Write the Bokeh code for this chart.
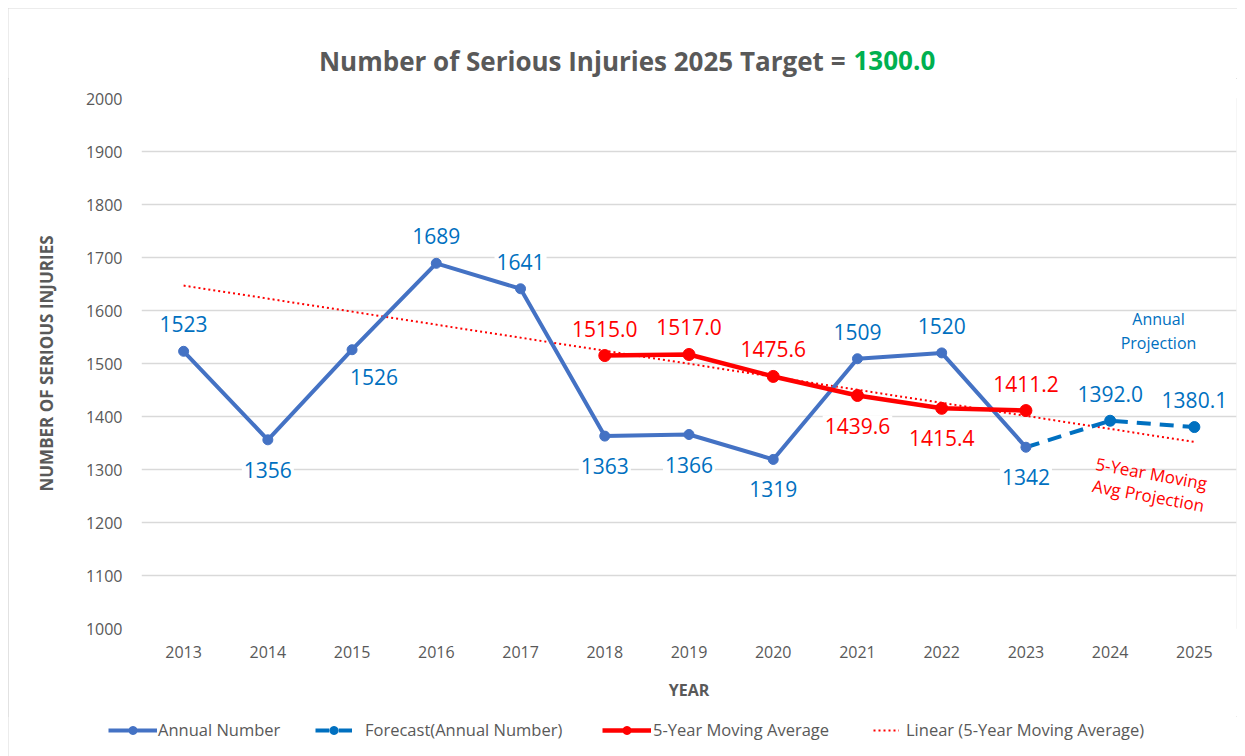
from bokeh.plotting import figure
from bokeh.layouts import column
from bokeh.models import ColumnDataSource, Label, Legend, LegendItem, FixedTicker, FactorRange, Range1d
from bokeh.core.properties import value
from bokeh.embed import file_html
from bokeh.resources import INLINE

# ---------------- data ----------------
years = ["2013", "2014", "2015", "2016", "2017", "2018", "2019",
         "2020", "2021", "2022", "2023", "2024", "2025"]

annual_years = ["2013", "2014", "2015", "2016", "2017", "2018",
                "2019", "2020", "2021", "2022", "2023"]
annual_values = [1523, 1356, 1526, 1689, 1641, 1363, 1366, 1319, 1509, 1520, 1342]

forecast_years = ["2023", "2024", "2025"]
forecast_values = [1342, 1392.0, 1380.1]

ma_years = ["2018", "2019", "2020", "2021", "2022", "2023"]
ma_values = [1515.0, 1517.0, 1475.6, 1439.6, 1415.4, 1411.2]

trend_years = ["2013", "2025"]
trend_values = [1647, 1352]

y_ticks = [1000, 1100, 1200, 1300, 1400, 1500, 1600, 1700, 1800, 1900, 2000]

# label placement (style)
annual_place = ["above", "below", "below_right", "above", "above", "below",
                "below", "below", "above", "above", "below"]
ma_place = ["above", "above", "above", "below", "below", "above"]
forecast_place = [None, "above", "above"]

OFFS = {"above": (0, -27), "below": (0, 30), "below_right": (22, 27)}

FONT = "Open Sans"
GREY = "#595959"
BLUE_LINE = "#4472C4"
BLUE_TXT = "#0070C0"
RED = "#FF0000"

W = 1229
TOP_H = 70     # title strip: page y 8..78
MAIN_H = 638   # chart: page y 78..716
LEG_H = 40     # legend strip: page y 716..756
FL, FB = 141, 628  # page position of main frame left / bottom

# ---------------- title strip ----------------
tf = figure(width=W, height=TOP_H, x_range=Range1d(0, 1), y_range=Range1d(0, 1),
            output_backend="svg", toolbar_location=None,
            x_axis_location=None, y_axis_location=None,
            min_border=0, min_border_left=0, min_border_right=0,
            min_border_top=0, min_border_bottom=0)
tf.frame_align = False
tf.grid.visible = False
tf.outline_line_color = None
tf.border_fill_color = "white"
tf.background_fill_color = "white"


def tscr(px, py):
    return dict(x=px - 8, y=(8 + TOP_H) - py, x_units="screen", y_units="screen")


tf.add_layout(Label(**tscr(845, 60), text="Number of Serious Injuries 2025 Target =",
                    text_font=FONT, text_font_size="26px", text_font_style="bold",
                    text_color=GREY, text_align="right", text_baseline="middle"))
tf.add_layout(Label(**tscr(853, 60), text="1300.0", text_font=FONT, text_font_size="26px",
                    text_font_style="bold", text_color="#00B050",
                    text_align="left", text_baseline="middle"))

# ---------------- main chart ----------------
p = figure(width=W, height=MAIN_H, x_range=FactorRange(factors=years),
           y_range=Range1d(1000, 2000), output_backend="svg",
           toolbar_location=None, min_border_left=133, min_border_right=1,
           min_border_top=20, min_border_bottom=88)
p.frame_align = False
p.outline_line_color = None
p.background_fill_color = "white"
p.border_fill_color = "white"

p.xgrid.grid_line_color = None
p.ygrid.grid_line_color = "#d9d9d9"
p.ygrid.grid_line_width = 1.5
p.yaxis.ticker = FixedTicker(ticks=y_ticks)

for ax in (p.xaxis[0], p.yaxis[0]):
    ax.axis_line_color = None
    ax.major_tick_line_color = None
    ax.minor_tick_line_color = None
    ax.major_tick_out = 0
    ax.major_tick_in = 0
    ax.major_label_text_font = FONT
    ax.major_label_text_font_size = "16px"
    ax.major_label_text_color = GREY
    ax.axis_label_text_font = FONT
    ax.axis_label_text_font_style = "bold"
    ax.axis_label_text_color = GREY

p.yaxis.axis_label = "NUMBER OF SERIOUS INJURIES"
p.yaxis.axis_label_text_font_size = "17px"
p.yaxis.major_label_standoff = 19
p.yaxis.axis_label_standoff = 25
p.xaxis.axis_label = "YEAR"
p.xaxis.axis_label_text_font_size = "16px"
p.xaxis.major_label_standoff = 17
p.xaxis.axis_label_standoff = 18


def add_labels(xs, vals, places, fmt, color):
    for key, (dx, dy) in OFFS.items():
        sx = [x for x, pl in zip(xs, places) if pl == key]
        sv = [v for v, pl in zip(vals, places) if pl == key]
        if not sx:
            continue
        src = ColumnDataSource(dict(x=sx, y=sv, t=[fmt(v) for v in sv]))
        p.text(x="x", y="y", text="t", source=src, x_offset=dx, y_offset=dy,
               text_font=value(FONT), text_font_size="21px", text_color=color,
               text_align="center", text_baseline="middle",
               background_fill_color="white", padding=2)


add_labels(annual_years, annual_values, annual_place, lambda v: f"{v:d}", BLUE_TXT)
add_labels(ma_years, ma_values, ma_place, lambda v: f"{v:.1f}", RED)
add_labels(forecast_years, forecast_values, forecast_place, lambda v: f"{v:.1f}", BLUE_TXT)

TREND_STYLE = dict(line_color=RED, line_width=2, line_dash="2 3")
FC_LINE_STYLE = dict(line_color=BLUE_TXT, line_width=4, line_dash="14 9")
FC_PT_STYLE = dict(size=11, color=BLUE_TXT)
AN_LINE_STYLE = dict(line_color=BLUE_LINE, line_width=4)
AN_PT_STYLE = dict(size=10, color=BLUE_LINE)
MA_LINE_STYLE = dict(line_color=RED, line_width=4.5)
MA_PT_STYLE = dict(size=12, color=RED)

p.line(trend_years, trend_values, **TREND_STYLE)
p.line(forecast_years, forecast_values, **FC_LINE_STYLE)
p.scatter(forecast_years[1:], forecast_values[1:], **FC_PT_STYLE)
p.line(annual_years, annual_values, **AN_LINE_STYLE)
p.scatter(annual_years, annual_values, **AN_PT_STYLE)
p.line(ma_years, ma_values, **MA_LINE_STYLE)
p.scatter(ma_years, ma_values, **MA_PT_STYLE)


def scr(px, py):
    return dict(x=px - FL, y=FB - py, x_units="screen", y_units="screen")


for txt, cy in (("Annual", 318), ("Projection", 342)):
    p.add_layout(Label(**scr(1158, cy), text=txt, text_font=FONT, text_font_size="16px",
                       text_color=BLUE_TXT, text_align="center", text_baseline="middle"))
for txt, cx, cy in (("5-Year Moving", 1151, 473), ("Avg Projection", 1148, 495)):
    p.add_layout(Label(**scr(cx, cy), text=txt, text_font=FONT, text_font_size="17px",
                       text_color=RED, text_align="center", text_baseline="middle",
                       angle=-0.18))

# ---------------- legend strip ----------------
lf = figure(width=W, height=LEG_H, x_range=Range1d(0, 1), y_range=Range1d(0, 1),
            output_backend="svg", toolbar_location=None,
            x_axis_location=None, y_axis_location=None,
            min_border=0, min_border_left=0, min_border_right=0,
            min_border_top=0, min_border_bottom=0)
lf.frame_align = False
lf.grid.visible = False
lf.outline_line_color = None
lf.border_fill_color = "white"
lf.background_fill_color = "white"


def dummy():
    # one point far outside the visible range, so only the legend glyph shows
    return ColumnDataSource(dict(x=[-10], y=[-10]))


r_an = [lf.line("x", "y", source=dummy(), **AN_LINE_STYLE),
        lf.scatter("x", "y", source=dummy(), **AN_PT_STYLE)]
r_fc = [lf.line("x", "y", source=dummy(), **FC_LINE_STYLE),
        lf.scatter("x", "y", source=dummy(), **FC_PT_STYLE)]
r_ma = [lf.line("x", "y", source=dummy(), **MA_LINE_STYLE),
        lf.scatter("x", "y", source=dummy(), **MA_PT_STYLE)]
r_tr = [lf.line("x", "y", source=dummy(), **TREND_STYLE)]

LEG_TOP = 8 + TOP_H + MAIN_H
leg_specs = [
    ("Annual Number", r_an, 108, 49, 1),
    ("Forecast(Annual Number)", r_fc, 315, 37, 13),
    ("5-Year Moving Average", r_ma, 602, 49, 2),
    ("Linear (5-Year Moving Average)", r_tr, 873, 26, 7),
]
for lab, rends, lx, gw, st in leg_specs:
    leg = Legend(items=[LegendItem(label=lab, renderers=rends)],
                 location=(lx - 8, LEG_H - (741 - LEG_TOP)),
                 glyph_width=gw, glyph_height=20, label_height=20, label_standoff=st,
                 padding=0, margin=0, border_line_color=None, background_fill_alpha=0,
                 label_text_font=FONT, label_text_font_size="16.5px", label_text_color=GREY)
    lf.add_layout(leg)

layout = column(tf, p, lf, spacing=0,
                styles={"margin-left": "8px", "margin-top": "8px",
                        "outline": "1px solid #d9d9d9", "outline-offset": "-1px"})

open("out.html", "w").write(file_html(layout, INLINE))
